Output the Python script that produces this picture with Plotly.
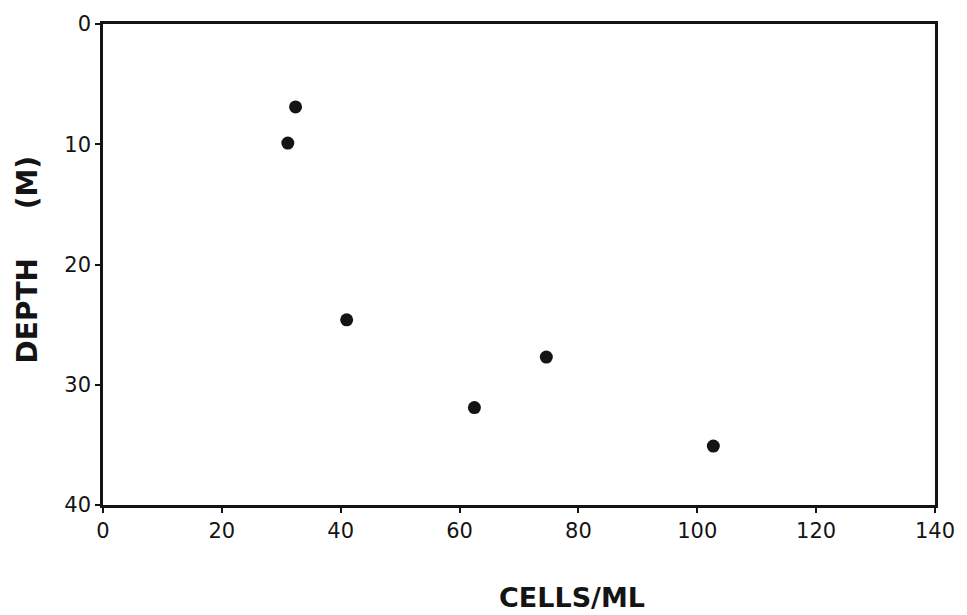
import plotly.graph_objects as go

# Cell concentration vs. depth
cells_per_ml = [32.4, 31.1, 41.0, 74.6, 62.5, 102.7]
depth_m = [6.9, 9.9, 24.6, 27.7, 31.9, 35.1]

x_ticks = [0, 20, 40, 60, 80, 100, 120, 140]
y_ticks = [0, 10, 20, 30, 40]

FONT = "DejaVu Sans, Arial, sans-serif"
INK = "#141414"

fig = go.Figure(
    go.Scatter(
        x=cells_per_ml,
        y=depth_m,
        mode="markers",
        marker=dict(size=13, color=INK, line=dict(width=0)),
        hoverinfo="x+y",
    )
)

axis_common = dict(
    showgrid=False,
    zeroline=False,
    showline=True,
    linecolor=INK,
    linewidth=2.5,
    mirror=True,
    ticks="outside",
    ticklen=5,
    tickwidth=2,
    tickcolor=INK,
    tickfont=dict(family=FONT, size=21, color=INK),
)

fig.update_xaxes(
    range=[0, 140],
    tickvals=x_ticks,
    ticktext=[str(v) for v in x_ticks],
    **axis_common,
)
fig.update_yaxes(
    range=[40, 0],
    tickvals=y_ticks,
    ticktext=[str(v) for v in y_ticks],
    **axis_common,
)

plot_w = 967 - 103 - 27
plot_h = 615 - 24 - 110

fig.update_layout(
    width=967,
    height=615,
    margin=dict(l=103, r=27, t=24, b=110),
    plot_bgcolor="white",
    paper_bgcolor="white",
    showlegend=False,
    annotations=[
        dict(
            text="<b>CELLS/ML</b>",
            x=(575 - 103) / plot_w, y=-(597 - 505) / plot_h,
            xref="paper", yref="paper",
            xanchor="center", yanchor="middle",
            showarrow=False,
            font=dict(family=FONT, size=27, color=INK),
        ),
        dict(
            text="<b>DEPTH&nbsp;&nbsp;&nbsp;&nbsp;&nbsp;(M)</b>",
            x=-(103 - 27) / plot_w, y=(505 - 259) / plot_h,
            xref="paper", yref="paper",
            xanchor="center", yanchor="middle",
            textangle=-90,
            showarrow=False,
            font=dict(family=FONT, size=28, color=INK),
        ),
    ],
)

fig.write_html("out.html")
